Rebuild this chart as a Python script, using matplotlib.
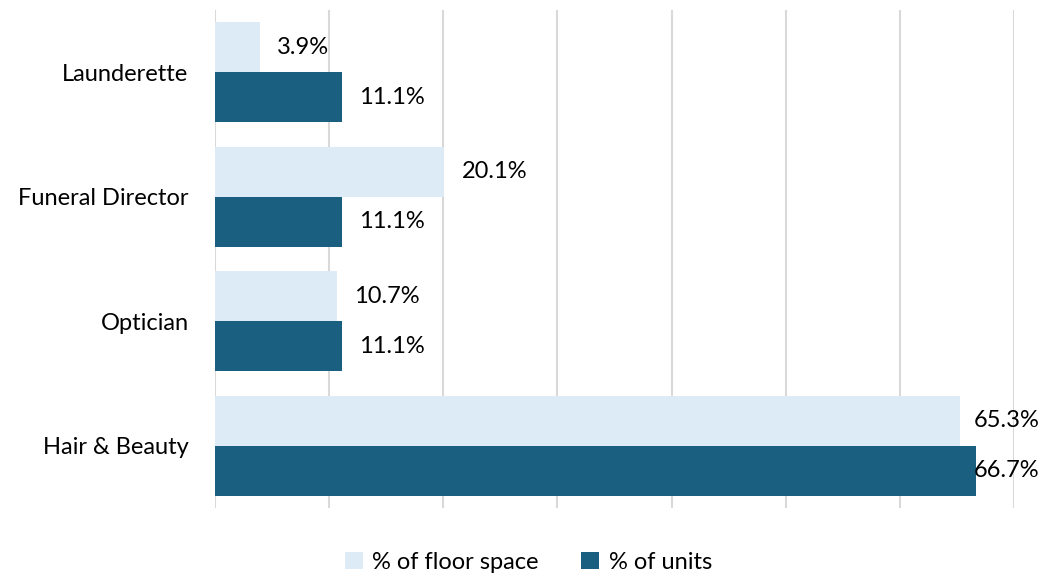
import numpy as np
import matplotlib
matplotlib.use("Agg")
import matplotlib.pyplot as plt

plt.rcParams["font.family"] = ["Lato", "DejaVu Sans"]

categories = ["Launderette", "Funeral Director", "Optician", "Hair & Beauty"]
floor_space = [3.9, 20.1, 10.7, 65.3]
units = [11.1, 11.1, 11.1, 66.7]
series_names = ["% of floor space", "% of units"]

light = "#DDEBF7"
dark = "#1A5E80"

fig = plt.figure(figsize=(10.57, 5.77), dpi=100)
ax = fig.add_axes([0.2034, 0.1196, 0.7559, 0.8631])

y = np.arange(len(categories))
h = 0.4
ax.barh(y - h / 2, floor_space, height=h, color=light, label=series_names[0], zorder=2)
ax.barh(y + h / 2, units, height=h, color=dark, label=series_names[1], zorder=2)

ax.set_xlim(0, 70)
ax.set_ylim(len(categories) - 0.5, -0.5)
ax.set_xticks(np.arange(0, 71, 10))
ax.set_xticklabels([])
ax.tick_params(axis="x", length=0)
ax.tick_params(axis="y", length=0, pad=19, labelsize=17)
ax.set_yticks(y)
ax.set_yticklabels(categories)
ax.grid(axis="x", color="#D9D9D9", linewidth=1.5, zorder=0)
for s in ax.spines.values():
    s.set_visible(False)

# data labels, pushed back inside the plot when they would run off the right edge
pad = 1.5
limit = 66.5
for i in range(len(categories)):
    for val, off in ((floor_space[i], -h / 2), (units[i], h / 2)):
        ax.text(min(val + pad, limit), i + off, f"{val}%", va="center", ha="left",
                fontsize=17, color="#000000", zorder=3)

fig.legend(loc="lower center", bbox_to_anchor=(0.5, -0.03), ncol=2, frameon=False,
           fontsize=17, handlelength=0.75, handleheight=0.75, handletextpad=0.4,
           columnspacing=1.8)

fig.savefig("out.png", dpi=100)
